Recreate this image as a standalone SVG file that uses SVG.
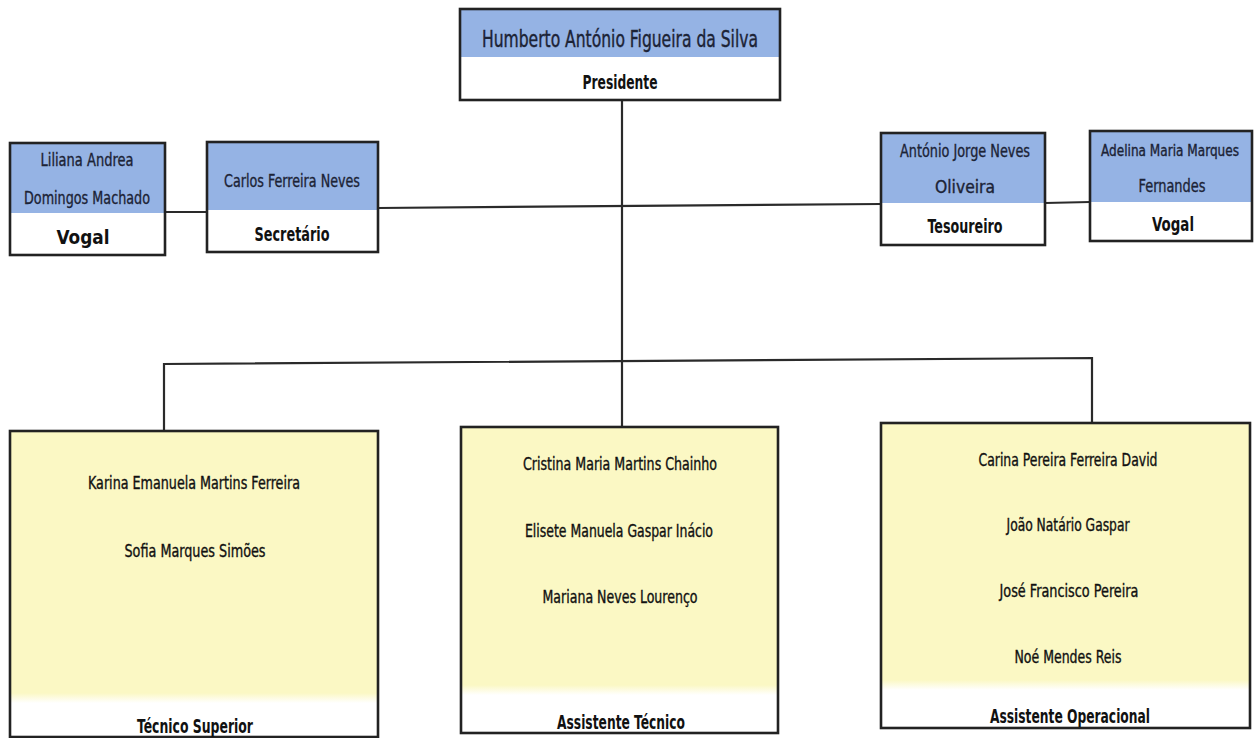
<svg xmlns="http://www.w3.org/2000/svg" width="1255" height="738" viewBox="0 0 1255 738">
<style>
.frame{fill:none;stroke:#222;stroke-width:2.6}
.blue{fill:#95b3e4}
.yel{fill:#fbf8c4}
.white{fill:#ffffff}
.conn{fill:none;stroke:#2a2a2a;stroke-width:2.2}
text{font-family:"Liberation Sans Narrow","DejaVu Sans Condensed","Liberation Sans",sans-serif;text-anchor:middle}
.nm{font-size:18px;fill:#1c2336;stroke:#1c2336;stroke-width:0.35}
.nmb{font-size:23px;fill:#1c2336;stroke:#1c2336;stroke-width:0.4}
.role{font-size:19px;font-weight:bold;fill:#111}
.staff{font-size:17px;fill:#111;stroke:#111;stroke-width:0.35}
</style>
<defs>
<linearGradient id="fade" x1="0" y1="0" x2="0" y2="1">
<stop offset="0" stop-color="#fbf8c4"/>
<stop offset="1" stop-color="#ffffff"/>
</linearGradient>
</defs>
<rect width="1255" height="738" fill="#ffffff"/>

<g id="connectors">
<path class="conn" d="M622,100 V427"/>
<path class="conn" d="M164,431 V364 L1092,358 V423"/>
<path class="conn" d="M378,208 L881,204"/>
<path class="conn" d="M165,212 H207"/>
<path class="conn" d="M1045,203 L1090,202"/>
</g>

<g id="presidente">
<rect class="white" x="460" y="9" width="320" height="91"/>
<rect class="blue" x="460" y="9" width="320" height="48"/>
<rect class="frame" x="460" y="9" width="320" height="91"/>
<text class="nmb" x="620" y="47" textLength="276" lengthAdjust="spacingAndGlyphs">Humberto António Figueira da Silva</text>
<text class="role" x="620" y="89" textLength="75" lengthAdjust="spacingAndGlyphs">Presidente</text>
</g>

<g id="vogal-esq">
<rect class="white" x="10" y="143" width="155" height="112"/>
<rect class="blue" x="10" y="143" width="155" height="70"/>
<rect class="frame" x="10" y="143" width="155" height="112"/>
<text class="nm" x="87" y="166" textLength="93" lengthAdjust="spacingAndGlyphs">Liliana Andrea</text>
<text class="nm" x="87" y="204" textLength="126" lengthAdjust="spacingAndGlyphs">Domingos Machado</text>
<text class="role" x="83" y="244" textLength="53" lengthAdjust="spacingAndGlyphs">Vogal</text>
</g>

<g id="secretario">
<rect class="white" x="207" y="142" width="171" height="110"/>
<rect class="blue" x="207" y="142" width="171" height="68"/>
<rect class="frame" x="207" y="142" width="171" height="110"/>
<text class="nm" x="292" y="187" textLength="136" lengthAdjust="spacingAndGlyphs">Carlos Ferreira Neves</text>
<text class="role" x="292" y="241" textLength="75" lengthAdjust="spacingAndGlyphs">Secretário</text>
</g>

<g id="tesoureiro">
<rect class="white" x="881" y="133" width="164" height="112"/>
<rect class="blue" x="881" y="133" width="164" height="70"/>
<rect class="frame" x="881" y="133" width="164" height="112"/>
<text class="nm" x="965" y="157" textLength="130" lengthAdjust="spacingAndGlyphs">António Jorge Neves</text>
<text class="nm" x="965" y="193" textLength="60" lengthAdjust="spacingAndGlyphs">Oliveira</text>
<text class="role" x="965" y="233" textLength="75" lengthAdjust="spacingAndGlyphs">Tesoureiro</text>
</g>

<g id="vogal-dir">
<rect class="white" x="1090" y="131" width="162" height="110"/>
<rect class="blue" x="1090" y="131" width="162" height="71"/>
<rect class="frame" x="1090" y="131" width="162" height="110"/>
<text class="nm" x="1170" y="156" style="font-size:15px" textLength="138" lengthAdjust="spacingAndGlyphs">Adelina Maria Marques</text>
<text class="nm" x="1172" y="192" textLength="67" lengthAdjust="spacingAndGlyphs">Fernandes</text>
<text class="role" x="1173" y="231" textLength="42" lengthAdjust="spacingAndGlyphs">Vogal</text>
</g>

<g id="tecnico-superior">
<rect class="white" x="10" y="431" width="368" height="306"/>
<rect class="yel" x="10" y="431" width="368" height="262"/>
<rect fill="url(#fade)" x="10" y="693" width="368" height="10"/>
<rect class="frame" x="10" y="431" width="368" height="306"/>
<text class="staff" x="194" y="489" textLength="212" lengthAdjust="spacingAndGlyphs">Karina Emanuela Martins Ferreira</text>
<text class="staff" x="195" y="557" textLength="141" lengthAdjust="spacingAndGlyphs">Sofia Marques Simões</text>
<text class="role" x="195" y="733" textLength="116" lengthAdjust="spacingAndGlyphs">Técnico Superior</text>
</g>

<g id="assistente-tecnico">
<rect class="white" x="461" y="427" width="317" height="306"/>
<rect class="yel" x="461" y="427" width="317" height="258"/>
<rect fill="url(#fade)" x="461" y="685" width="317" height="10"/>
<rect class="frame" x="461" y="427" width="317" height="306"/>
<text class="staff" x="620" y="470" textLength="194" lengthAdjust="spacingAndGlyphs">Cristina Maria Martins Chainho</text>
<text class="staff" x="619" y="537" textLength="188" lengthAdjust="spacingAndGlyphs">Elisete Manuela Gaspar Inácio</text>
<text class="staff" x="620" y="603" textLength="155" lengthAdjust="spacingAndGlyphs">Mariana Neves Lourenço</text>
<text class="role" x="621" y="729" textLength="128" lengthAdjust="spacingAndGlyphs">Assistente Técnico</text>
</g>

<g id="assistente-operacional">
<rect class="white" x="881" y="423" width="369" height="305"/>
<rect class="yel" x="881" y="423" width="369" height="257"/>
<rect fill="url(#fade)" x="881" y="680" width="369" height="10"/>
<rect class="frame" x="881" y="423" width="369" height="305"/>
<text class="staff" x="1068" y="466" textLength="179" lengthAdjust="spacingAndGlyphs">Carina Pereira Ferreira David</text>
<text class="staff" x="1068" y="531" textLength="123" lengthAdjust="spacingAndGlyphs">João Natário Gaspar</text>
<text class="staff" x="1069" y="597" textLength="139" lengthAdjust="spacingAndGlyphs">José Francisco Pereira</text>
<text class="staff" x="1068" y="663" textLength="107" lengthAdjust="spacingAndGlyphs">Noé Mendes Reis</text>
<text class="role" x="1070" y="723" textLength="160" lengthAdjust="spacingAndGlyphs">Assistente Operacional</text>
</g>
</svg>
